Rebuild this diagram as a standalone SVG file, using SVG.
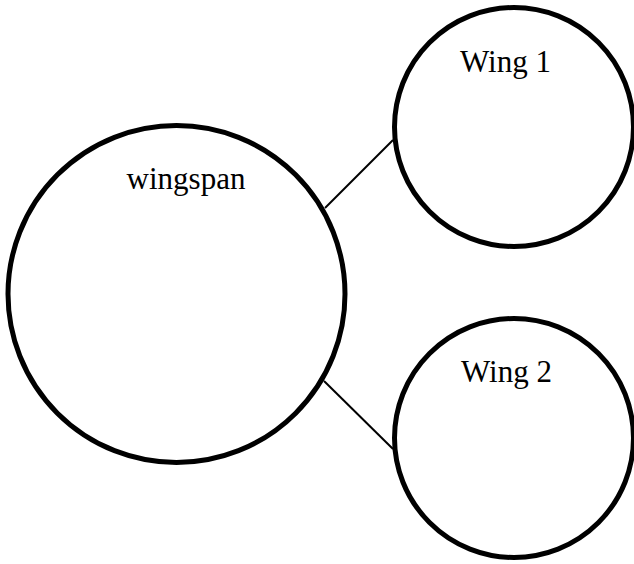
<svg xmlns="http://www.w3.org/2000/svg" width="634" height="564" viewBox="0 0 634 564">
  <style>
    .node circle { fill: #ffffff; stroke: #000000; stroke-width: 5; }
    .node text { font-family: "Liberation Serif", "Times New Roman", serif; font-size: 31px; fill: #000000; text-anchor: middle; }
    .edge { stroke: #000000; stroke-width: 2; fill: none; }
  </style>
  <rect width="634" height="564" fill="#ffffff"/>
  <g id="connectors">
    <line class="edge" x1="325" y1="208" x2="393" y2="140"/>
    <line class="edge" x1="324" y1="381" x2="393" y2="449"/>
  </g>
  <g id="wingspan" class="node">
    <circle cx="176.5" cy="294" r="168.5"/>
    <text x="186" y="189">wingspan</text>
  </g>
  <g id="wing1" class="node">
    <circle cx="514" cy="127" r="119.5"/>
    <text x="505.5" y="72">Wing 1</text>
  </g>
  <g id="wing2" class="node">
    <circle cx="514" cy="438" r="119.5"/>
    <text x="506.5" y="382">Wing 2</text>
  </g>
</svg>
